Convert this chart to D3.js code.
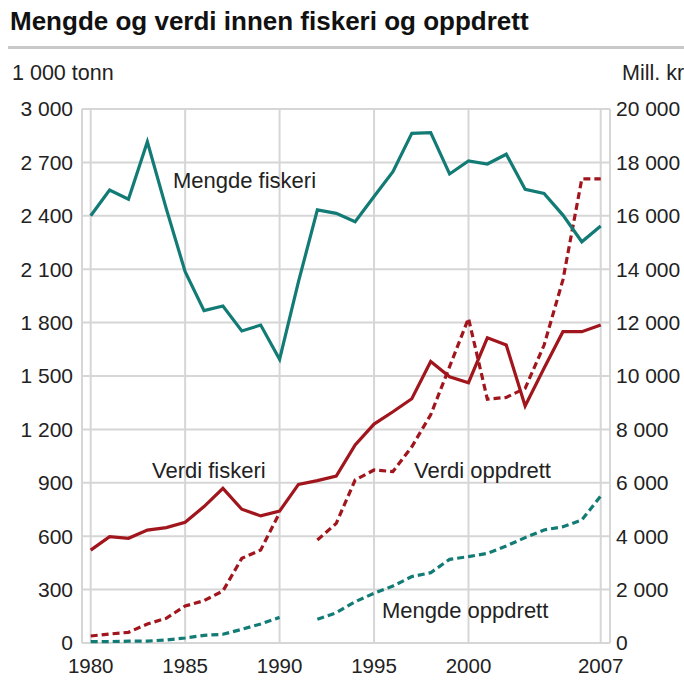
<!DOCTYPE html>
<html>
<head>
<meta charset="utf-8">
<script src="https://cdn.jsdelivr.net/npm/d3@7"></script>
<style>
  body { margin: 0; background: #fff; }
  svg { font-family: "Liberation Sans", Arial, sans-serif; }
</style>
</head>
<body>
<svg width="684" height="682"></svg>
<script>
'use strict'

const years = [1980, 1981, 1982, 1983, 1984, 1985, 1986, 1987, 1988, 1989,
    1990, 1991, 1992, 1993, 1994, 1995, 1996, 1997, 1998, 1999,
    2000, 2001, 2002, 2003, 2004, 2005, 2006, 2007]

// 1 000 tonn (left axis)
const mengdeFiskeri = [2400, 2545, 2493, 2816, 2440, 2086, 1867, 1893, 1753, 1786,
    1594, 2030, 2433, 2414, 2367, 2508, 2648, 2863, 2867, 2635,
    2708, 2691, 2746, 2549, 2526, 2404, 2254, 2343]
const mengdeOppdrett = [8, 8, 10, 11, 17, 28, 43, 49, 77, 107,
    144, null, 133, 170, 232, 279, 320, 373, 395, 470,
    485, 504, 545, 592, 635, 653, 691, 826]

// Mill. kr (right axis)
const verdiFiskeri = [3480, 3980, 3920, 4230, 4320, 4520, 5110, 5790, 5010, 4760,
    4940, 5940, 6080, 6250, 7420, 8200, 8660, 9150, 10540, 9970,
    9750, 11430, 11160, 8880, 10290, 11660, 11660, 11910]
const verdiOppdrett = [262, 337, 400, 712, 925, 1386, 1585, 1948, 3171, 3483,
    4881, null, 3858, 4482, 6105, 6480, 6420, 7350, 8550, 10350,
    12160, 9130, 9200, 9540, 11150, 13600, 17380, 17380]

const leftTicks = [0, 300, 600, 900, 1200, 1500, 1800, 2100, 2400, 2700, 3000]
const rightTicks = [0, 2000, 4000, 6000, 8000, 10000, 12000, 14000, 16000, 18000, 20000]
const xTicks = [1980, 1985, 1990, 1995, 2000, 2007]

const teal = '#137b75'
const red = '#a1151d'
const grid = '#d6d6d6'
const fmt = d => d3.format(',')(d).replace(/,/g, ' ')

const svg = d3.select('svg')

const plot = { left: 82, right: 610, top: 109, bottom: 643 }

const x = d3.scaleLinear().domain([1980, 2007]).range([90.7, 600.7])
const yL = d3.scaleLinear().domain([0, 3000]).range([plot.bottom, plot.top])
const yR = d3.scaleLinear().domain([0, 20000]).range([plot.bottom, plot.top])

// title
svg.append('text')
    .attr('x', 10)
    .attr('y', 30)
    .attr('font-size', 26)
    .attr('font-weight', 'bold')
    .attr('fill', '#111')
    .text('Mengde og verdi innen fiskeri og oppdrett')

svg.append('rect')
    .attr('x', 8)
    .attr('y', 46)
    .attr('width', 676)
    .attr('height', 3)
    .attr('fill', '#c8c8c8')

svg.append('text')
    .attr('x', 12)
    .attr('y', 80)
    .attr('font-size', 21.5)
    .attr('fill', '#222')
    .text('1 000 tonn')

svg.append('text')
    .attr('x', 622)
    .attr('y', 80)
    .attr('font-size', 21.5)
    .attr('fill', '#222')
    .text('Mill. kr')

// grid
const g = svg.append('g')

g.selectAll('line.h')
    .data(leftTicks)
    .enter()
    .append('line')
    .attr('x1', plot.left)
    .attr('x2', plot.right)
    .attr('y1', d => yL(d))
    .attr('y2', d => yL(d))
    .attr('stroke', grid)
    .attr('stroke-width', 2)

g.selectAll('line.v')
    .data(xTicks)
    .enter()
    .append('line')
    .attr('x1', d => x(d))
    .attr('x2', d => x(d))
    .attr('y1', plot.top)
    .attr('y2', plot.bottom)
    .attr('stroke', grid)
    .attr('stroke-width', 2)

g.selectAll('line.frame')
    .data([plot.left, plot.right])
    .enter()
    .append('line')
    .attr('x1', d => d)
    .attr('x2', d => d)
    .attr('y1', plot.top)
    .attr('y2', plot.bottom)
    .attr('stroke', grid)
    .attr('stroke-width', 2)

// tick labels
svg.append('g')
    .selectAll('text')
    .data(leftTicks)
    .enter()
    .append('text')
    .attr('x', 73)
    .attr('y', d => yL(d))
    .attr('dy', '0.35em')
    .attr('text-anchor', 'end')
    .attr('font-size', 21)
    .attr('fill', '#222')
    .text(fmt)

svg.append('g')
    .selectAll('text')
    .data(rightTicks)
    .enter()
    .append('text')
    .attr('x', 616)
    .attr('y', d => yR(d))
    .attr('dy', '0.35em')
    .attr('font-size', 21)
    .attr('fill', '#222')
    .text(fmt)

svg.append('g')
    .selectAll('text')
    .data(xTicks)
    .enter()
    .append('text')
    .attr('x', d => x(d))
    .attr('y', 673)
    .attr('text-anchor', 'middle')
    .attr('font-size', 20.5)
    .attr('fill', '#222')
    .text(d => d)

// lines
const series = [
    { values: mengdeOppdrett, scale: yL, color: teal, dash: '7,4' },
    { values: verdiOppdrett, scale: yR, color: red, dash: '7,4' },
    { values: mengdeFiskeri, scale: yL, color: teal, dash: null },
    { values: verdiFiskeri, scale: yR, color: red, dash: null }
]

series.forEach(s => {
    const line = d3.line()
        .defined(d => d[1] !== null)
        .x(d => x(d[0]))
        .y(d => s.scale(d[1]))

    svg.append('path')
        .datum(years.map((yr, i) => [yr, s.values[i]]))
        .attr('d', line)
        .attr('fill', 'none')
        .attr('stroke', s.color)
        .attr('stroke-width', 3.2)
        .attr('stroke-linejoin', 'miter')
        .attr('stroke-dasharray', s.dash)
})

// series labels
const labels = [
    { text: 'Mengde fiskeri', x: 173, y: 188 },
    { text: 'Verdi fiskeri', x: 152, y: 478 },
    { text: 'Verdi oppdrett', x: 414, y: 478 },
    { text: 'Mengde oppdrett', x: 382, y: 618 }
]

svg.append('g')
    .selectAll('text')
    .data(labels)
    .enter()
    .append('text')
    .attr('x', d => d.x)
    .attr('y', d => d.y)
    .attr('font-size', 22)
    .attr('fill', '#222')
    .text(d => d.text)
</script>
</body>
</html>
